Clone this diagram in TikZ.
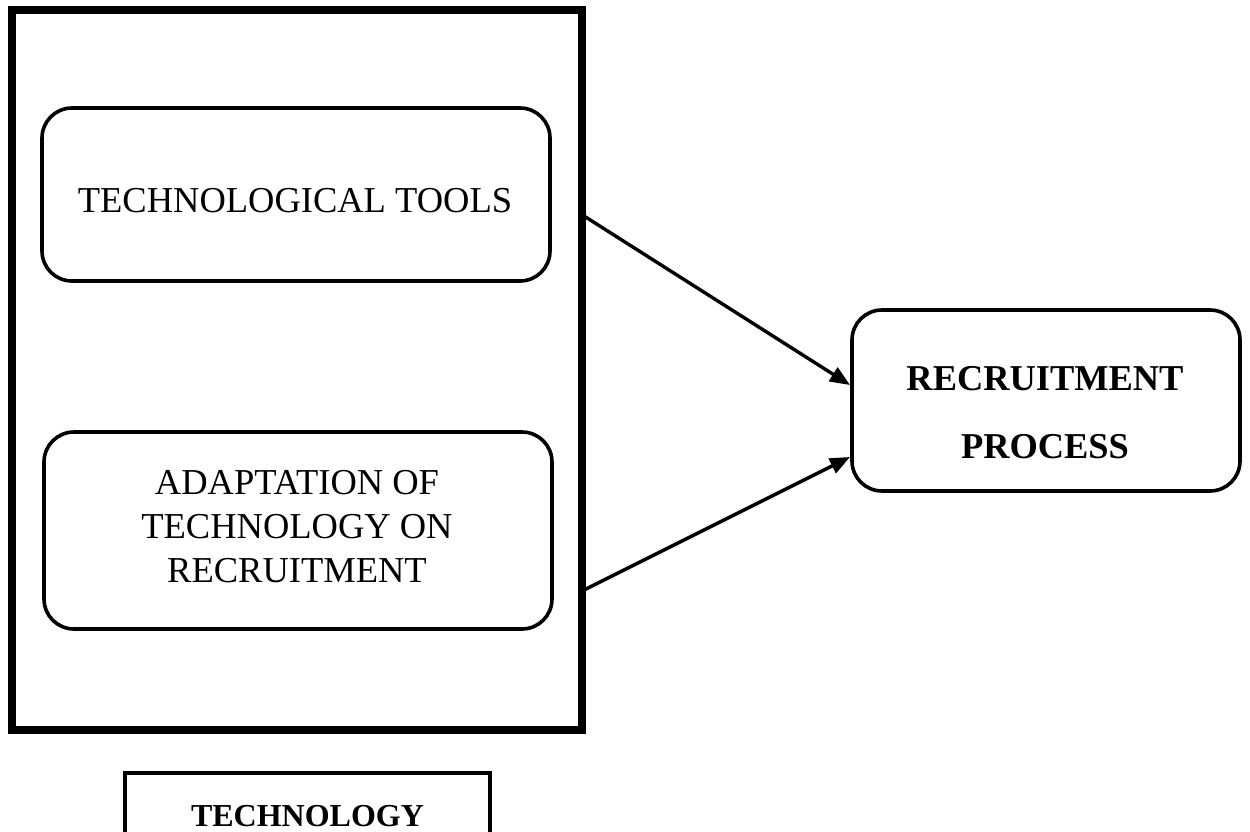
\documentclass[tikz,border=0pt]{standalone}
\usepackage{fontspec}
\setmainfont{Liberation Serif}
\usetikzlibrary{arrows.meta}
\begin{document}
\begin{tikzpicture}[x=1pt,y=-1pt,
  outerframe/.style={draw, line width=8pt, inner sep=0pt},
  rbox/.style={draw, line width=3.6pt, rounded corners=30pt, inner sep=0pt},
  sbox/.style={draw, line width=3.6pt, inner sep=0pt},
  regtext/.style={font=\fontsize{36.5}{44}\selectfont, align=center, inner sep=0pt},
  boldtext/.style={font=\fontsize{36.4}{68}\selectfont\bfseries, align=center, inner sep=0pt},
  smallbold/.style={font=\fontsize{32}{38}\selectfont\bfseries, inner sep=0pt},
  conn/.style={line width=3.4pt, -{Triangle[length=20pt,width=16pt]}}]
\clip (0,0) rectangle (1250,832);
\fill[white] (0,0) rectangle (1250,832);
% frames and boxes
\node[outerframe, minimum width=570pt, minimum height=720pt] (outer) at (297,370) {};
\node[rbox, minimum width=508pt, minimum height=173pt] (tools) at (296,194.5) {};
\node[rbox, minimum width=508pt, minimum height=197pt] (adapt) at (298,530.5) {};
\node[rbox, minimum width=388pt, minimum height=181pt] (rec) at (1046,400.5) {};
\node[sbox, minimum width=365pt, minimum height=100pt] (tech) at (307.5,823) {};
% texts
\node[regtext, anchor=base] (toolstext) at (295,212) {TECHNOLOGICAL TOOLS};
\node[regtext] (adapttext) at (297,527) {ADAPTATION OF\\TECHNOLOGY ON\\RECRUITMENT};
\node[boldtext] (rectext) at (1045,413) {RECRUITMENT\\PROCESS};
\node[smallbold, anchor=base] (techtext) at (307.5,826) {TECHNOLOGY};
% connector ends
\coordinate (s1) at (584,216);
\coordinate (s2) at (584,590);
\coordinate (e1) at (850,385);
\coordinate (e2) at (850,457);
\draw[conn] (s1) -- (e1);
\draw[conn] (s2) -- (e2);
\end{tikzpicture}
\end{document}
